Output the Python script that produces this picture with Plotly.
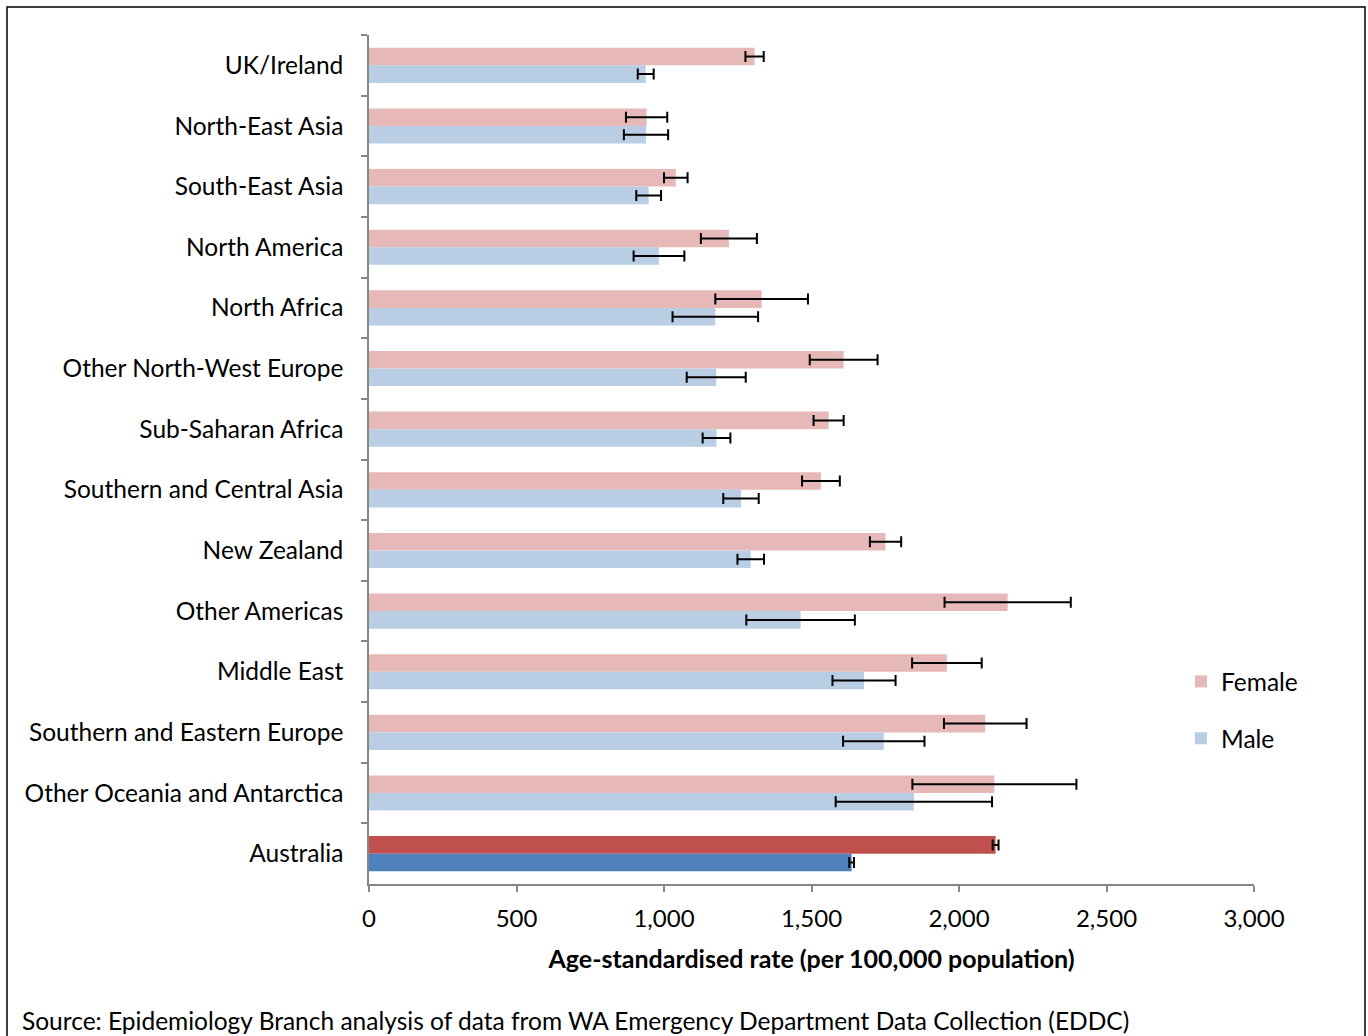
import plotly.graph_objects as go

categories = ["UK/Ireland", "North-East Asia", "South-East Asia", "North America",
              "North Africa", "Other North-West Europe", "Sub-Saharan Africa",
              "Southern and Central Asia", "New Zealand", "Other Americas",
              "Middle East", "Southern and Eastern Europe",
              "Other Oceania and Antarctica", "Australia"]
female = [1307, 941, 1040, 1220, 1331, 1609, 1558, 1532, 1751, 2165, 1959, 2089, 2120, 2124]
female_err = [31, 70, 40, 95, 157, 115, 51, 64, 53, 214, 118, 140, 278, 10]
male = [938, 939, 948, 983, 1174, 1177, 1178, 1261, 1294, 1463, 1678, 1745, 1847, 1636]
male_err = [27, 75, 42, 86, 145, 100, 47, 60, 45, 184, 107, 138, 265, 8]
x_ticks = [0, 500, 1000, 1500, 2000, 2500, 3000]
x_tick_labels = ["0", "500", "1,000", "1,500", "2,000", "2,500", "3,000"]

F_LIGHT, F_DARK = "#E6B9B8", "#C0504D"
M_LIGHT, M_DARK = "#B9CDE5", "#4F81BD"
f_colors = [F_DARK if c == "Australia" else F_LIGHT for c in categories]
m_colors = [M_DARK if c == "Australia" else M_LIGHT for c in categories]

FONT = "Lato, 'Open Sans', sans-serif"
FS = 24.5

fig = go.Figure()
fig.add_trace(go.Bar(
    name="Female", y=categories, x=female, orientation="h",
    marker=dict(color=f_colors, line=dict(width=0)),
    error_x=dict(type="data", array=female_err, visible=True,
                 color="black", thickness=2, width=5.5),
    legendgroup="f",
))
fig.add_trace(go.Bar(
    name="Male", y=categories, x=male, orientation="h",
    marker=dict(color=m_colors, line=dict(width=0)),
    error_x=dict(type="data", array=male_err, visible=True,
                 color="black", thickness=2, width=5.5),
    legendgroup="m",
))

L, R, T, B = 369, 1254, 35, 884
W, H = 1368, 1036
pw, ph = R - L, B - T

def px_x(px):
    return (px - L) / pw

def px_y(py):
    return (B - py) / ph

fig.update_layout(
    width=W, height=H,
    margin=dict(l=L, r=W - R, t=T, b=H - B, autoexpand=False),
    paper_bgcolor="white", plot_bgcolor="white",
    font=dict(family=FONT, size=FS, color="black"),
    barmode="group", bargap=0.42, bargroupgap=0,
    showlegend=True,
    legend=dict(x=px_x(1181), y=px_y(659), xanchor="left", yanchor="top",
                traceorder="grouped", tracegroupgap=22,
                font=dict(size=FS), bgcolor="rgba(0,0,0,0)"),
    xaxis=dict(range=[0, 3000], tickvals=x_ticks, ticktext=x_tick_labels,
               showgrid=False, zeroline=False,
               showline=True, linecolor="#868686", linewidth=1.5,
               ticks="outside", ticklen=6, tickcolor="#868686", tickwidth=1.5,
               tickfont=dict(size=24), ticklabelstandoff=6,
               title=dict(text="<b>Age-standardised rate (per 100,000 population)</b>",
                          font=dict(size=25), standoff=20)),
    yaxis=dict(autorange="reversed", type="category",
               showgrid=False, zeroline=False,
               showline=True, linecolor="#868686", linewidth=1.5,
               ticks="outside", ticklen=6, tickcolor="#868686", tickwidth=1.5,
               tickson="boundaries", tickfont=dict(size=FS),
               ticklabelstandoff=19),
)

# outer border (bottom edge lies beyond the visible page, as in the reference)
fig.add_shape(type="rect", xref="paper", yref="paper",
              x0=px_x(7), x1=px_x(1365), y0=px_y(1045), y1=px_y(7),
              line=dict(color="black", width=1.5), fillcolor="rgba(0,0,0,0)",
              layer="below")

fig.add_annotation(
    text="Source: Epidemiology Branch analysis of data from WA Emergency Department Data Collection (EDDC)",
    xref="paper", yref="paper", x=px_x(20), y=px_y(1020),
    xanchor="left", yanchor="middle", showarrow=False,
    font=dict(size=FS),
)

fig.write_html(
    "out.html",
    config={"displayModeBar": False},
    post_script="document.body.style.margin='0';document.body.style.overflow='hidden';",
)
